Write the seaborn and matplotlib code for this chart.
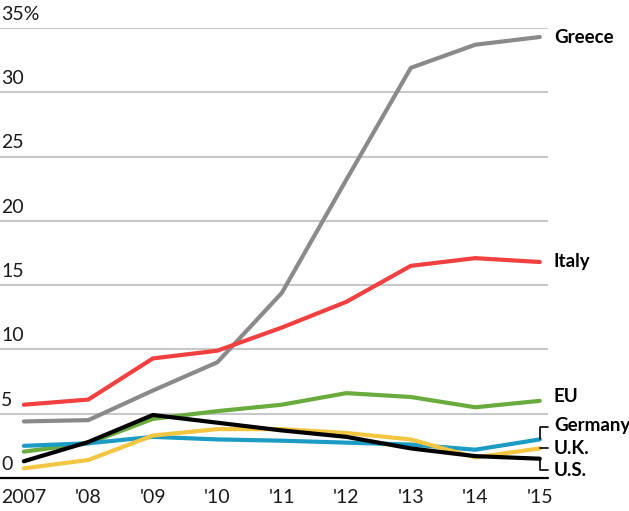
import pandas as pd
import matplotlib
matplotlib.use('Agg')
import matplotlib.pyplot as plt
import seaborn as sns

# Data
years = [2007, 2008, 2009, 2010, 2011, 2012, 2013, 2014, 2015]
greece = [4.4, 4.5, 6.8, 9.0, 14.4, 23.2, 31.9, 33.7, 34.3]
italy = [5.7, 6.1, 9.3, 9.9, 11.7, 13.7, 16.5, 17.1, 16.8]
eu = [2.05, 2.7, 4.6, 5.2, 5.7, 6.6, 6.3, 5.5, 6.0]
germany = [2.5, 2.7, 3.2, 3.0, 2.9, 2.75, 2.6, 2.2, 3.0]
uk = [0.75, 1.4, 3.3, 3.8, 3.8, 3.5, 3.0, 1.6, 2.3]
us = [1.3, 2.8, 4.9, 4.3, 3.7, 3.2, 2.3, 1.7, 1.5]

series = ['Greece', 'Italy', 'EU', 'Germany', 'U.K.', 'U.S.']
values = [greece, italy, eu, germany, uk, us]
colors = ['#8a8a8a', '#f23f3f', '#6aab3e', '#1c9bc4', '#f2c640', '#000000']
x_labels = ['2007', "'08", "'09", "'10", "'11", "'12", "'13", "'14", "'15"]
y_ticks = [0, 5, 10, 15, 20, 25, 30, 35]
y_labels = ['0', '5', '10', '15', '20', '25', '30', '35%']

df = pd.DataFrame({
    'year': years * len(series),
    'value': [v for vals in values for v in vals],
    'country': [s for s in series for _ in years],
})

sns.set_style('white')
plt.rcParams['font.family'] = ['Lato', 'DejaVu Sans']

fig = plt.figure(figsize=(6.29, 5.11), dpi=100)
ax = fig.add_axes([0.0, 0.0646, 0.871, 0.8806])

# gridlines first, so lines sit on top
for t in y_ticks[1:]:
    ax.axhline(t, color='#c8c8c8', lw=1.5, zorder=0)

palette = dict(zip(series, colors))
sns.lineplot(data=df, x='year', y='value', hue='country', hue_order=series,
             palette=palette, linewidth=3.0, legend=False, ax=ax,
             estimator=None, zorder=3)

ax.set_xlim(2006.63, 2015.125)
ax.set_ylim(0, 35)

# baseline
ax.axhline(0, color='black', lw=1.6, zorder=4, clip_on=False)

for s in ax.spines.values():
    s.set_visible(False)

ax.set_xticks(years)
ax.set_xticklabels(x_labels, fontsize=14, color='#1a1a1a')
ax.tick_params(axis='x', length=5, width=1, color='black', pad=3, direction='out')
ax.set_yticks([])
ax.set_xlabel('')
ax.set_ylabel('')

# y labels above their gridlines, flush left
for t, lab in zip(y_ticks, y_labels):
    ax.text(0.002, t + 0.4, lab, transform=ax.get_yaxis_transform(),
            ha='left', va='bottom', fontsize=14, color='#1a1a1a')

# right-hand series labels
lab_kw = dict(fontsize=13.5, fontweight='bold', color='black', va='center',
              ha='left', clip_on=False)
ax.text(2015.22, 34.3, 'Greece', **lab_kw)
ax.text(2015.22, 16.8, 'Italy', **lab_kw)
ax.text(2015.22, 6.3, 'EU', **lab_kw)
ax.text(2015.22, 4.1, 'Germany', **lab_kw)
ax.text(2015.22, 2.3, 'U.K.', **lab_kw)
ax.text(2015.22, 0.55, 'U.S.', **lab_kw)

# leader brackets for the bunched labels
br = dict(color='black', lw=1.2, clip_on=False, zorder=5)
ax.plot([2015.0, 2015.0, 2015.12], [3.0, 4.0, 4.0], **br)
ax.plot([2015.0, 2015.12], [2.3, 2.3], **br)
ax.plot([2015.0, 2015.0, 2015.12], [1.5, 0.6, 0.6], **br)

fig.savefig('out.png', dpi=100)
